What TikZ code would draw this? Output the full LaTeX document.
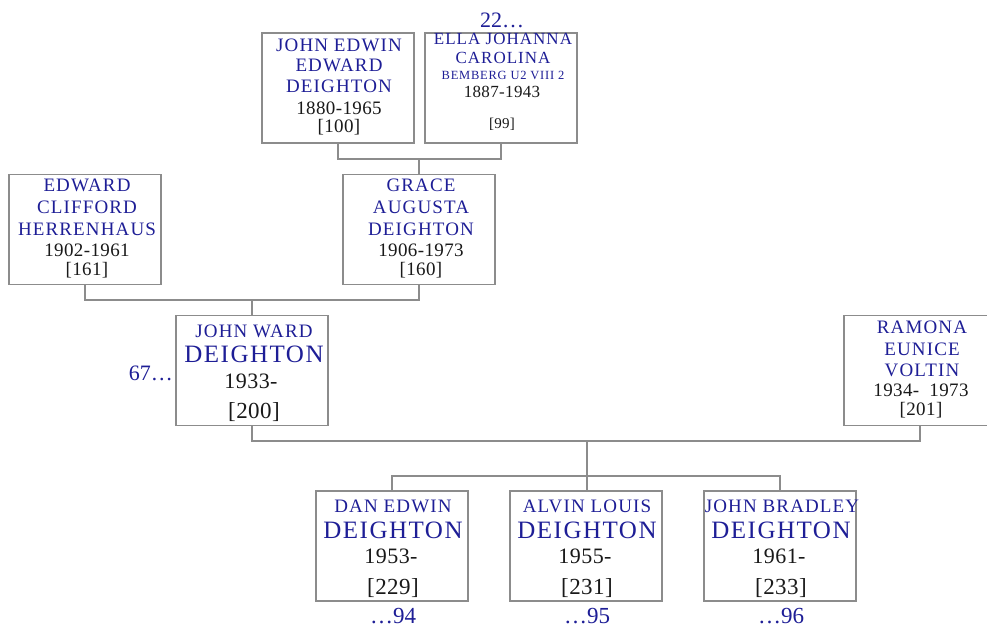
\documentclass[tikz,border=0pt]{standalone}
\usepackage{fontspec}
\setmainfont{Liberation Serif}
\newfontfamily\namefont[LetterSpace=6]{Liberation Serif}
\newfontfamily\datefont[LetterSpace=2]{Liberation Serif}
\definecolor{nameblue}{RGB}{30,30,150}
\definecolor{datec}{RGB}{25,25,25}
\definecolor{linec}{RGB}{140,140,140}
\newcommand\tn[4]{\node[tline, text=nameblue, font=\namefont\fontsize{#3}{#3}\selectfont] (#1) at (#2) {#4};}
\newcommand\td[4]{\node[tline, text=datec, font=\datefont\fontsize{#3}{#3}\selectfont] (#1) at (#2) {#4};}
\newcommand\tk[4]{\node[tline, text=nameblue, font=\fontsize{#3}{#3}\selectfont] (#1) at (#2) {#4};}
\begin{document}
\begin{tikzpicture}[x=1pt, y=-1pt,
  tline/.style={anchor=base, inner sep=0pt},
  pbox/.style={draw=linec, line width=1.2pt, minimum width=152pt, minimum height=110pt, inner sep=0pt},
  conn/.style={draw=linec, line width=1.2pt}]
\useasboundingbox (0,0) rectangle (987,631);
% boxes
\node[pbox] (p100) at (338,88) {};
\node[pbox] (p99) at (501,88) {};
\node[pbox] (p161) at (85,229.5) {};
\node[pbox] (p160) at (419,229.5) {};
\node[pbox] (p200) at (252,370.5) {};
\node[pbox] (p201) at (920,370.5) {};
\node[pbox] (p229) at (392,546) {};
\node[pbox] (p231) at (586,546) {};
\node[pbox] (p233) at (780,546) {};
% connectors
\coordinate (m1) at (419,159);
\coordinate (m2) at (252,300);
\coordinate (m3) at (587,441);
\coordinate (m4) at (587,476);
\draw[conn] (p100.south) |- (m1) -| (p99.south);
\draw[conn] (m1) -- (m1 |- p160.north);
\draw[conn] (p161.south) |- (m2) -| (p160.south);
\draw[conn] (m2) -- (m2 |- p200.north);
\draw[conn] (p200.south) |- (m3) -| (p201.south);
\draw[conn] (m3) -- (m4);
\draw[conn] (p229.north) |- (m4) -| (p233.north);
\draw[conn] (m4) -- (m4 |- p231.north);
% John Edwin
\tn{a1}{339,52}{19}{JOHN EDWIN}
\tn{a2}{339,72}{19}{EDWARD}
\tn{a3}{339,93}{19}{DEIGHTON}
\td{a4}{339,115}{19}{1880-1965}
\td{a5}{339,133}{19}{[100]}
% Ella
\tk{b0}{502,28}{22}{22…}
\tn{b1}{503,45}{17}{ELLA JOHANNA}
\tn{b2}{503,64}{17}{CAROLINA}
\tn{b3}{503,80}{12.5}{BEMBERG U2 VIII 2}
\td{b4}{502,98}{17}{1887-1943}
\td{b5}{502,129}{15}{[99]}
% Edward Clifford
\tn{c1}{87,192}{19}{EDWARD}
\tn{c2}{87,213}{19}{CLIFFORD}
\tn{c3}{87,235}{19}{HERRENHAUS}
\td{c4}{87,256}{19}{1902-1961}
\td{c5}{87,275}{19}{[161]}
% Grace
\tn{d1}{421,192}{19}{GRACE}
\tn{d2}{421,213}{19}{AUGUSTA}
\tn{d3}{421,235}{19}{DEIGHTON}
\td{d4}{421,256}{19}{1906-1973}
\td{d5}{421,275}{19}{[160]}
% John Ward
\tn{e1}{254,337}{19}{JOHN WARD}
\tn{e2}{254,362}{25}{DEIGHTON}
\td{e3}{251,388}{22}{1933-}
\td{e4}{254,418}{23}{[200]}
\node[inner sep=0pt, anchor=base east, text=nameblue, font=\fontsize{22}{22}\selectfont] (e0) at (173,380) {67…};
% Ramona
\tn{f1}{922,333}{19}{RAMONA}
\tn{f2}{922,355}{19}{EUNICE}
\tn{f3}{922,376}{19}{VOLTIN}
\td{f4}{921,396}{19}{1934-\ \ 1973}
\td{f5}{921,415}{19}{[201]}
% Dan
\tn{g1}{393,512}{19}{DAN EDWIN}
\tn{g2}{393,538}{25}{DEIGHTON}
\td{g3}{391,563}{22}{1953-}
\td{g4}{393,594}{23}{[229]}
\tk{g5}{393,623}{23}{…94}
% Alvin
\tn{h1}{587,512}{19}{ALVIN LOUIS}
\tn{h2}{587,538}{25}{DEIGHTON}
\td{h3}{585,563}{22}{1955-}
\td{h4}{587,594}{23}{[231]}
\tk{h5}{587,623}{23}{…95}
% John Bradley
\tn{i1}{782,512}{19}{JOHN BRADLEY}
\tn{i2}{781,538}{25}{DEIGHTON}
\td{i3}{779,563}{22}{1961-}
\td{i4}{781,594}{23}{[233]}
\tk{i5}{781,623}{23}{…96}
\end{tikzpicture}
\end{document}
